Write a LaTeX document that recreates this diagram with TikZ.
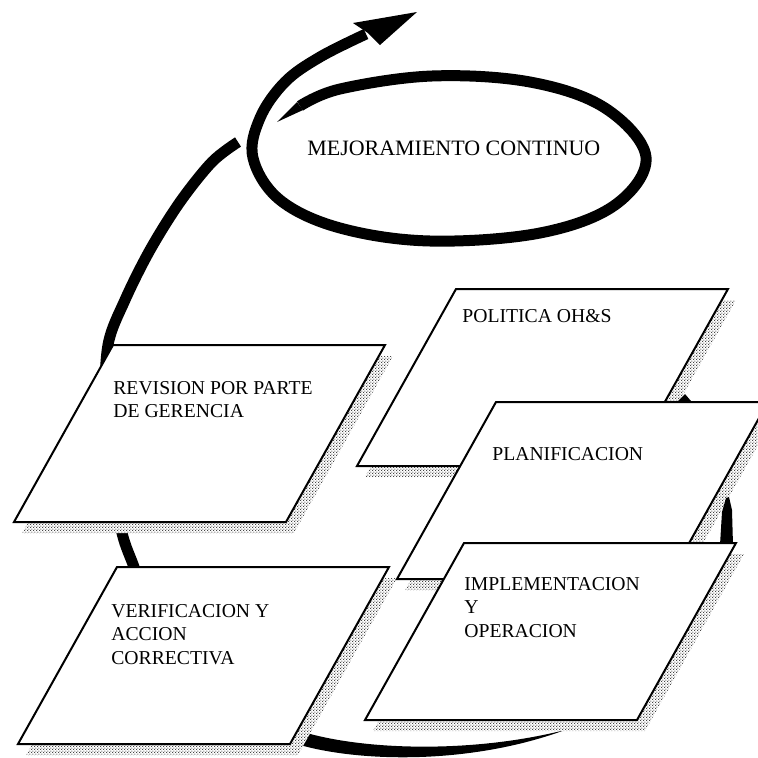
\documentclass[tikz,border=0pt]{standalone}
\usepackage{fontspec}
\setmainfont{Liberation Serif}
\usetikzlibrary{patterns}
\pgfdeclarepatternformonly{finedots}{\pgfqpoint{0pt}{0pt}}{\pgfqpoint{1.8pt}{1.8pt}}{\pgfqpoint{1.8pt}{1.8pt}}{%
  \pgfpathcircle{\pgfqpoint{0.45pt}{0.45pt}}{0.4pt}%
  \pgfpathcircle{\pgfqpoint{1.35pt}{1.35pt}}{0.4pt}%
  \pgfusepath{fill}}
\newcommand\boxfont{\fontsize{11.2}{13.3}\selectfont}
\newcommand\bigfont{\fontsize{12.5}{15}\selectfont}
\newcommand\pgram[2]{%
  \path[shadowfill] (#1+8,#2+11) -- ++(272,0) -- ++(-99,177) -- ++(-272,0) -- cycle;
  \path[boxline] (#1,#2) -- ++(272,0) -- ++(-99,177) -- ++(-272,0) -- cycle;}
\begin{document}
\begin{tikzpicture}[x=0.02cm,y=-0.02cm,
  boxline/.style={draw=black,fill=white,line width=0.04cm,line join=miter},
  shadowfill/.style={preaction={fill=white},pattern=finedots,pattern color=black!80},
  brush/.style={draw=black,line width=0.22cm,line cap=butt,line join=round},
  ink/.style={fill=black},
  lbl/.style={anchor=north west,inner sep=0pt,align=left,font=\boxfont}]
\useasboundingbox (0,0) rectangle (758,758);
\clip (0,0) rectangle (758,758);
% big cycle arc (left and bottom)
\draw[brush] plot[smooth,tension=0.55] coordinates {(305,738) (240,712) (185,662) (150,612) (134,567) (122,533) (110,470) (105,410) (108,345) (125,300) (150,250) (180,202) (212,162) (238,142)};
\fill[ink] (300,731) .. controls (360,750) and (470,754) .. (565,730) .. controls (470,765) and (360,762) .. (300,745) -- cycle;
% spiral around MEJORAMIENTO CONTINUO
\draw[brush] plot[smooth,tension=0.6] coordinates {(300,106) (340,89) (432,76) (530,82) (605,108) (646,157) (615,205) (540,233) (430,241) (340,228) (280,200) (253,158) (260,118) (285,82) (320,57) (366,34)};
\fill[ink] (277,122) -- (303,110) -- (297,102) -- cycle;
\fill[ink] (353,23) -- (417,12) -- (380,45) -- (368,33) -- cycle;
% parallelograms
\pgram{113}{345}
\pgram{117}{567}
\pgram{456}{289}
\fill[ink] (678,401) -- (685,394) -- (691,401) -- cycle;
\pgram{496}{402}
\fill[ink] (720,545) -- (722,512) -- (726,498) -- (729,497) -- (732,510) -- (733,545) -- cycle;
\pgram{464}{543}
% labels
\node[lbl,font=\bigfont] (mejora) at (307,140.5) {MEJORAMIENTO CONTINUO};
\node[lbl] (politica) at (462,309) {POLITICA OH\&S};
\node[lbl] (revision) at (113,381) {REVISION POR PARTE\\DE GERENCIA};
\node[lbl] (planif) at (492,447) {PLANIFICACION};
\node[lbl] (implem) at (464,577) {IMPLEMENTACION\\Y\\OPERACION};
\node[lbl] (verif) at (111,604) {VERIFICACION Y\\ACCION\\CORRECTIVA};
\end{tikzpicture}
\end{document}
